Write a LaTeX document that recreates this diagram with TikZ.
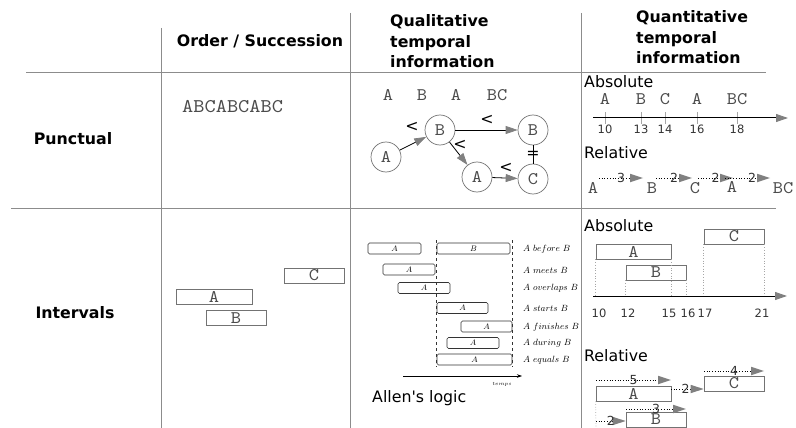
\documentclass[tikz,border=0pt]{standalone}
\usepackage{fontspec}
\setmainfont{DejaVu Sans}
\newfontfamily\nomapsans{DejaVu Sans}[Ligatures=ResetAll]
\newfontfamily\courfont{lmmono10-regular}[Extension=.otf, FakeStretch=1.1]
\usetikzlibrary{arrows.meta}
\definecolor{gridc}{gray}{0.55}
\definecolor{letc}{gray}{0.3}
\definecolor{boxc}{gray}{0.45}
\definecolor{headc}{gray}{0.5}
\definecolor{numc}{gray}{0.2}
\tikzset{
  hdr/.style={font=\bfseries\fontsize{15.8}{20.5}\selectfont, align=left, inner sep=0},
  rowlbl/.style={font=\bfseries\fontsize{15.8}{19}\selectfont, inner sep=0},
  sanslbl/.style={font=\fontsize{15.8}{19}\selectfont, inner sep=0},
  letter/.style={font=\courfont\fontsize{17.7}{18}\selectfont, text=letc, inner sep=0},
  circ/.style={circle, draw=boxc, line width=0.7pt, minimum size=30pt, inner sep=0, letter},
  ibox/.style={draw=boxc, line width=0.8pt, inner sep=0, minimum height=15pt, letter},
  num/.style={font=\fontsize{11.5}{12}\selectfont, text=numc, inner sep=0},
  garrow/.style={line width=0.8pt, -{Triangle[length=12pt,width=8pt,color=headc]}},
  darrow/.style={line width=0.7pt, dotted, -{Triangle[length=13pt,width=8.5pt,color=headc,line width=0pt]}},
  gridline/.style={draw=gridc, line width=1pt},
  vdot/.style={draw=gray!70, line width=0.7pt, dotted},
  axis/.style={line width=1pt, -{Triangle[length=12pt,width=8pt,color=headc]}},
  allen/.style={draw=black!80, rounded corners=1.5pt, line width=0.65pt, minimum height=11pt, inner sep=0, font=\fontsize{8}{8}\selectfont},
  allenlbl/.style={font=\fontsize{9.2}{9}\selectfont, inner sep=0, anchor=west},
  lt/.style={font=\fontsize{15.8}{16}\selectfont, inner sep=0},
  dnum/.style={num, font=\fontsize{12.5}{12}\selectfont}
}
\begin{document}
\begin{tikzpicture}[x=1pt,y=-1pt]
\useasboundingbox (0,0) rectangle (796,428);
% grid
\draw[gridline] (26,73) -- (766,73);
\draw[gridline] (11,208) -- (776,208);
\draw[gridline] (161,28) -- (161,428);
\draw[gridline] (350,13) -- (350,428);
\draw[gridline] (581,13) -- (581,428);
% headers
\node[hdr, anchor=base] (h1) at (260,47) {Order / Succession};
\node[hdr, anchor=north west] (h2) at (390,14.5) {Qualitative\\temporal\\information};
\node[hdr, anchor=north west] (h3) at (636,10.5) {Quantitative\\temporal\\information};
\node[rowlbl, anchor=base] (r1) at (73,144) {Punctual};
\node[rowlbl, anchor=base] (r2) at (75,318) {Intervals};
% order punctual
\node[letter, font=\courfont\fontsize{19.4}{19}\selectfont, anchor=base west] (seq) at (182,112.5) {ABCABCABC};
% order intervals
\node[ibox, minimum width=60pt] (oC) at (314,275.5) {C};
\node[ibox, minimum width=76pt] (oA) at (214,296.5) {A};
\node[ibox, minimum width=60pt] (oB) at (236,318) {B};
% qualitative punctual
\node[letter, anchor=base] (tA1) at (388,100.5) {A};
\node[letter, anchor=base] (tB1) at (422,100.5) {B};
\node[letter, anchor=base] (tA2) at (456,100.5) {A};
\node[letter, anchor=base] (tBC) at (497,100.5) {BC};
\node[circ] (qA) at (386,157) {A};
\node[circ] (qB1) at (440,130) {B};
\node[circ] (qB2) at (533,130) {B};
\node[circ] (qA2) at (477,177) {A};
\node[circ] (qC) at (533,179) {C};
\draw[garrow] (qA) -- (qB1);
\draw[garrow] (qB1) -- (qB2);
\draw[garrow] (qB1) -- (qA2);
\draw[garrow] (qA2) -- (qC);
\draw[line width=0.8pt] (qB2) -- (qC);
\node[lt] (l1) at (412,127) {<};
\node[lt] (l2) at (487,120) {<};
\node[lt] (l3) at (460,145) {<};
\node[lt] (l4) at (506,168) {<};
\node[lt] (eq) at (533,154.5) {=};
% qualitative intervals (Allen)
\draw[dashed, line width=0.5pt, black!80] (436,240) -- (436,367);
\draw[dashed, line width=0.5pt, black!80] (512,240) -- (512,367);
\node[allen, minimum width=53pt] (al1) at (394.5,248.5) {$A$};
\node[allen, minimum width=73pt] (alB) at (473.5,248.5) {$B$};
\node[allen, minimum width=52pt] (al2) at (409,269.5) {$A$};
\node[allen, minimum width=52pt] (al3) at (424,288) {$A$};
\node[allen, minimum width=51pt] (al4) at (462.5,308) {$A$};
\node[allen, minimum width=51pt] (al5) at (486.5,326.5) {$A$};
\node[allen, minimum width=52pt] (al6) at (473,343) {$A$};
\node[allen, minimum width=75pt] (al7) at (474.5,359.5) {$A$};
\node[allenlbl] (t1) at (523,249) {$A\ before\ B$};
\node[allenlbl] (t2) at (523,270) {$A\ meets\ B$};
\node[allenlbl] (t3) at (523,288.5) {$A\ overlaps\ B$};
\node[allenlbl] (t4) at (523,308.5) {$A\ starts\ B$};
\node[allenlbl] (t5) at (523,327) {$A\ finishes\ B$};
\node[allenlbl] (t6) at (523,343.5) {$A\ during\ B$};
\node[allenlbl] (t7) at (523,360) {$A\ equals\ B$};
\coordinate (tS) at (403,376);
\coordinate (tE) at (522,376);
\draw[line width=0.6pt, -{Stealth[length=5pt,width=3.5pt]}] (tS) -- (tE);
\node[font=\fontsize{5.5}{6}\selectfont, inner sep=0] (temps) at (502,384) {$temps$};
\node[sanslbl, font=\nomapsans\fontsize{15.8}{19}\selectfont, anchor=base west] (allen) at (372,402) {Allen's logic};
% quantitative punctual absolute
\node[sanslbl, anchor=base west] (abs1) at (584,88) {Absolute};
\coordinate (ax1s) at (593,118);
\coordinate (ax1e) at (788,118);
\foreach \x/\l/\n in {605/A/a, 641/B/b, 665/C/c, 697/A/d} {
  \node[letter, anchor=base] (p\n) at (\x,105) {\l};
}
\node[letter, anchor=base] (pe) at (737,105) {BC};
\foreach \x/\n in {605/10, 641/13, 665/14, 697/16, 737/18} {
  \draw[draw=gray!70, line width=0.8pt] (\x,112) -- (\x,124);
  \node[num, anchor=base] (n\n) at (\x,133) {\n};
}
\draw[axis] (ax1s) -- (ax1e);
% quantitative punctual relative
\node[sanslbl, anchor=base west] (rel1) at (584,158) {Relative};
\node[letter, anchor=base] (rA) at (593,193) {A};
\node[letter, anchor=base] (rB) at (652,193) {B};
\node[letter, anchor=base] (rC) at (695,193) {C};
\node[letter, anchor=base] (rA2) at (732,192) {A};
\node[letter, anchor=base] (rBC) at (783,193) {BC};
\coordinate (ra1) at (599,178); \coordinate (ra2) at (643,178);
\coordinate (rb1) at (656,178); \coordinate (rb2) at (692,178);
\coordinate (rc1) at (698,178); \coordinate (rc2) at (733,178);
\coordinate (rd1) at (725,178); \coordinate (rd2) at (770,178);
\draw[darrow] (ra1) -- node[dnum] {3} (ra2);
\draw[darrow] (rb1) -- node[dnum] {2} (rb2);
\draw[darrow] (rc1) -- node[dnum] {2} (rc2);
\draw[darrow] (rd1) -- node[pos=0.6, dnum] {2} (rd2);
% quantitative intervals absolute
\node[sanslbl, anchor=base west] (abs2) at (584,231) {Absolute};
\node[ibox, minimum width=60pt] (aC) at (734,236.5) {C};
\node[ibox, minimum width=75pt] (aA) at (633.5,251.5) {A};
\node[ibox, minimum width=60pt] (aB) at (656,272.5) {B};
\coordinate (ax2s) at (593,296);
\coordinate (ax2e) at (787,296);
\draw[vdot] (aA.south west) -- (aA.south west |- ax2s);
\draw[vdot] (aA.south east) -- (aA.south east |- ax2s);
\draw[vdot] (aB.south west) -- (aB.south west |- ax2s);
\draw[vdot] (aB.south east) -- (aB.south east |- ax2s);
\draw[vdot] (aC.south west) -- (aC.south west |- ax2s);
\draw[vdot] (aC.south east) -- (aC.south east |- ax2s);
\draw[axis] (ax2s) -- (ax2e);
\foreach \x/\n in {599/10, 628/12, 669/15, 688/16, 705/17, 762/21} {
  \node[num, anchor=base] (m\n) at (\x,317) {\n};
}
% quantitative intervals relative
\node[sanslbl, anchor=base west] (rel2) at (584,361) {Relative};
\node[ibox, minimum width=75pt] (bA) at (633.5,393.5) {A};
\node[ibox, minimum width=60pt] (bC) at (734,383.5) {C};
\node[ibox, minimum width=60pt] (bB) at (656,419.5) {B};
\coordinate (s5) at (596,380); \coordinate (e5) at (671,380);
\coordinate (s4) at (704,371); \coordinate (e4) at (764,371);
\coordinate (s3) at (626,409); \coordinate (e3) at (686,409);
\coordinate (s2) at (671,389);
\coordinate (s2b) at (596,421);
\coordinate (vb) at (596,428);
\draw[vdot] (bA.south west) -- (vb);
\draw[darrow] (s5) -- node[dnum] {5} (e5);
\draw[darrow] (s4) -- node[dnum] {4} (e4);
\draw[darrow] (s3) -- node[dnum] {3} (e3);
\draw[darrow] (s2) -- node[pos=0.45, dnum] {2} (s2 -| bC.west);
\draw[darrow] (s2b) -- node[dnum] {2} (s2b -| bB.west);
\end{tikzpicture}
\end{document}
